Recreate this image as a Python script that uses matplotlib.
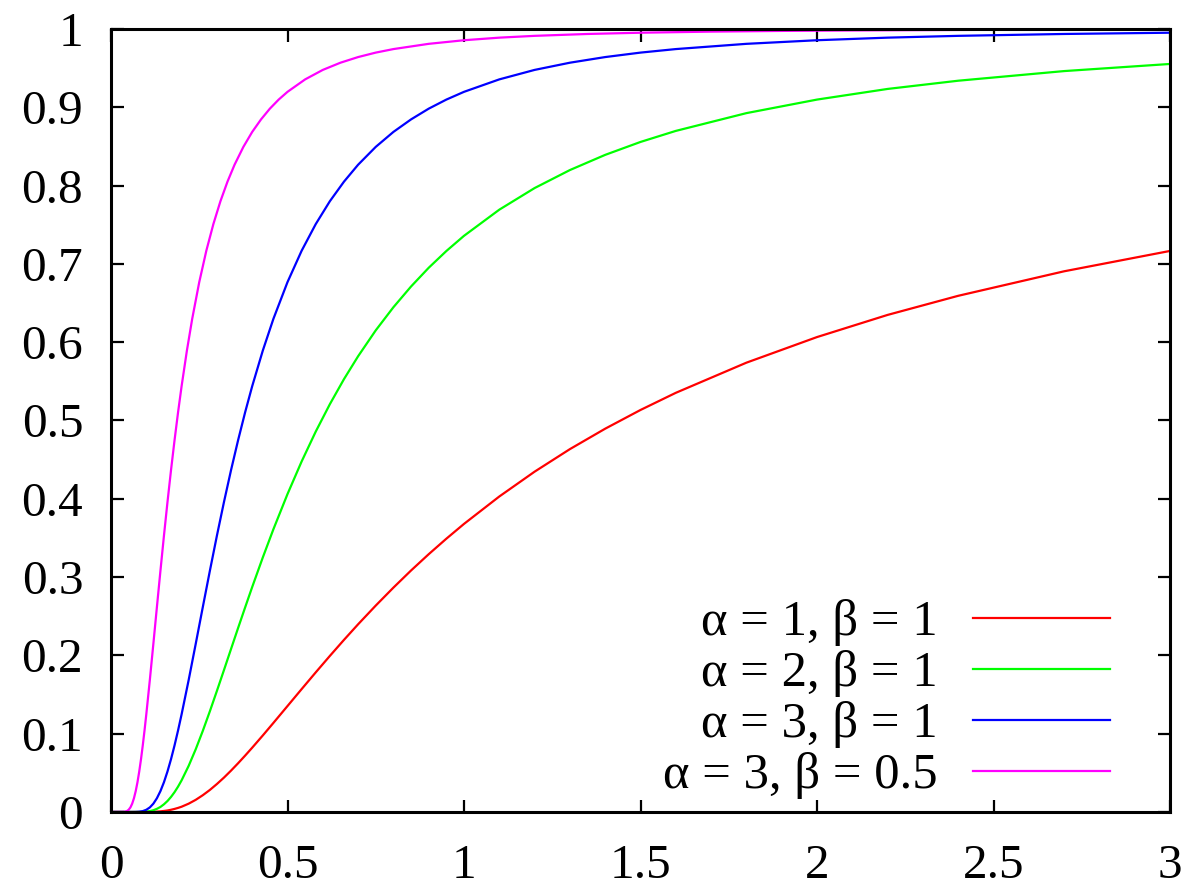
import matplotlib
matplotlib.use('Agg')
import matplotlib.pyplot as plt
from matplotlib.ticker import FormatStrFormatter

# values
x = [0.0, 0.04, 0.06, 0.07, 0.08, 0.09, 0.10, 0.11, 0.12, 0.13, 0.14, 0.15,
     0.16, 0.17, 0.18, 0.19, 0.20, 0.22, 0.24, 0.26, 0.28, 0.30, 0.32, 0.34,
     0.36, 0.38, 0.40, 0.43, 0.46, 0.50, 0.54, 0.58, 0.62, 0.66, 0.70, 0.75,
     0.80, 0.85, 0.90, 0.95, 1.00, 1.10, 1.20, 1.30, 1.40, 1.50, 1.60, 1.80,
     2.00, 2.20, 2.40, 2.70, 3.00]

y_a1_b1 = [0.0, 0.0, 0.0, 0.0, 0.000004, 0.000015, 0.000045, 0.00011, 0.00024,
           0.00046, 0.00079, 0.0013, 0.0019, 0.0028, 0.0039, 0.0052, 0.0067,
           0.0106, 0.0155, 0.0214, 0.0281, 0.0357, 0.0439, 0.0528, 0.0622,
           0.0720, 0.0821, 0.0977, 0.1137, 0.1353, 0.1569, 0.1783, 0.1993,
           0.2198, 0.2397, 0.2636, 0.2865, 0.3084, 0.3292, 0.3490, 0.3679,
           0.4029, 0.4346, 0.4634, 0.4895, 0.5134, 0.5353, 0.5738, 0.6065,
           0.6348, 0.6592, 0.6905, 0.7165]

y_a2_b1 = [0.0, 0.0, 0.000001, 0.00001, 0.00005, 0.00018, 0.0005, 0.0011,
           0.0022, 0.0040, 0.0064, 0.0098, 0.0140, 0.0192, 0.0253, 0.0324,
           0.0404, 0.0589, 0.0801, 0.1035, 0.1285, 0.1546, 0.1812, 0.2081,
           0.2349, 0.2613, 0.2873, 0.3250, 0.3610, 0.4060, 0.4476, 0.4858,
           0.5208, 0.5528, 0.5820, 0.6151, 0.6446, 0.6711, 0.6950, 0.7164,
           0.7358, 0.7692, 0.7968, 0.8198, 0.8392, 0.8557, 0.8698, 0.8925,
           0.9098, 0.9234, 0.9339, 0.9462, 0.9553]

y_a3_b1 = [0.0, 0.0, 0.000009, 0.000073, 0.00034, 0.0011, 0.0028, 0.0058,
           0.0106, 0.0175, 0.0266, 0.0380, 0.0517, 0.0674, 0.0850, 0.1042,
           0.1247, 0.1685, 0.2147, 0.2615, 0.3078, 0.3528, 0.3958, 0.4365,
           0.4747, 0.5105, 0.5438, 0.5892, 0.6297, 0.6767, 0.7167, 0.7508,
           0.7800, 0.8050, 0.8266, 0.8494, 0.8685, 0.8845, 0.8982, 0.9098,
           0.9197, 0.9356, 0.9477, 0.9569, 0.9641, 0.9698, 0.9743, 0.9810,
           0.9856, 0.9889, 0.9912, 0.9936, 0.9952]

# the beta = 0.5 curve rises twice as fast, so it has its own x points
x_b05 = [0.0, 0.02, 0.03, 0.035, 0.04, 0.045, 0.05, 0.055, 0.06, 0.065,
         0.07, 0.075, 0.08, 0.085, 0.09, 0.095, 0.10, 0.11, 0.12, 0.13, 0.14,
         0.15, 0.16, 0.17, 0.18, 0.19, 0.20, 0.215, 0.23, 0.25, 0.27, 0.29,
         0.31, 0.33, 0.35, 0.375, 0.40, 0.425, 0.45, 0.475, 0.50, 0.55, 0.60,
         0.65, 0.70, 0.75, 0.80, 0.90, 1.00, 1.10, 1.20, 1.35, 1.50, 1.70,
         1.90, 2.10, 2.30, 2.50, 2.75, 3.00]

y_a3_b05 = [0.0, 0.0, 0.000009, 0.000073, 0.00034, 0.0011, 0.0028, 0.0058,
            0.0106, 0.0175, 0.0266, 0.0380, 0.0517, 0.0674, 0.0850, 0.1042,
            0.1247, 0.1685, 0.2147, 0.2615, 0.3078, 0.3528, 0.3958, 0.4365,
            0.4747, 0.5105, 0.5438, 0.5892, 0.6297, 0.6767, 0.7167, 0.7508,
            0.7800, 0.8050, 0.8266, 0.8494, 0.8685, 0.8845, 0.8982, 0.9098,
            0.9197, 0.9356, 0.9477, 0.9569, 0.9641, 0.9698, 0.9743, 0.9810,
            0.9856, 0.9889, 0.9912, 0.9936, 0.9952, 0.9966, 0.9975, 0.9981,
            0.9985, 0.9989, 0.9991, 0.9994]

labels = ['α = 1, β = 1', 'α = 2, β = 1', 'α = 3, β = 1', 'α = 3, β = 0.5']
colors = ['#ff0000', '#00ff00', '#0000ff', '#ff00ff']

xticks = [0, 0.5, 1, 1.5, 2, 2.5, 3]
yticks = [0, 0.1, 0.2, 0.3, 0.4, 0.5, 0.6, 0.7, 0.8, 0.9, 1]

plt.rcParams['font.family'] = ['Liberation Serif', 'DejaVu Serif']

fig = plt.figure(figsize=(12, 8.91), dpi=100)
ax = fig.add_axes([0.0925, 0.0887, 0.8825, 0.8788])

series = [(x, y_a1_b1), (x, y_a2_b1), (x, y_a3_b1), (x_b05, y_a3_b05)]
for (xs, ys), lab, c in zip(series, labels, colors):
    ax.plot(xs, ys, color=c, lw=1.6, label=lab)

ax.set_xlim(0, 3)
ax.set_ylim(0, 1)
ax.set_xticks(xticks)
ax.set_yticks(yticks)
ax.xaxis.set_major_formatter(FormatStrFormatter('%g'))
ax.yaxis.set_major_formatter(FormatStrFormatter('%g'))
ax.tick_params(direction='in', length=9, width=1.6, labelsize=35.5,
               top=True, right=True)
ax.tick_params(axis='x', pad=23)
ax.tick_params(axis='y', pad=20)
for s in ax.spines.values():
    s.set_linewidth(2.2)

ax.legend(loc='lower right', bbox_to_anchor=(0.943, 0.016), frameon=False,
          fontsize=36.5, markerfirst=False, handlelength=2.7,
          handletextpad=0.7, labelspacing=0.08, borderpad=0,
          borderaxespad=0)

fig.savefig('out.png', dpi=100)
